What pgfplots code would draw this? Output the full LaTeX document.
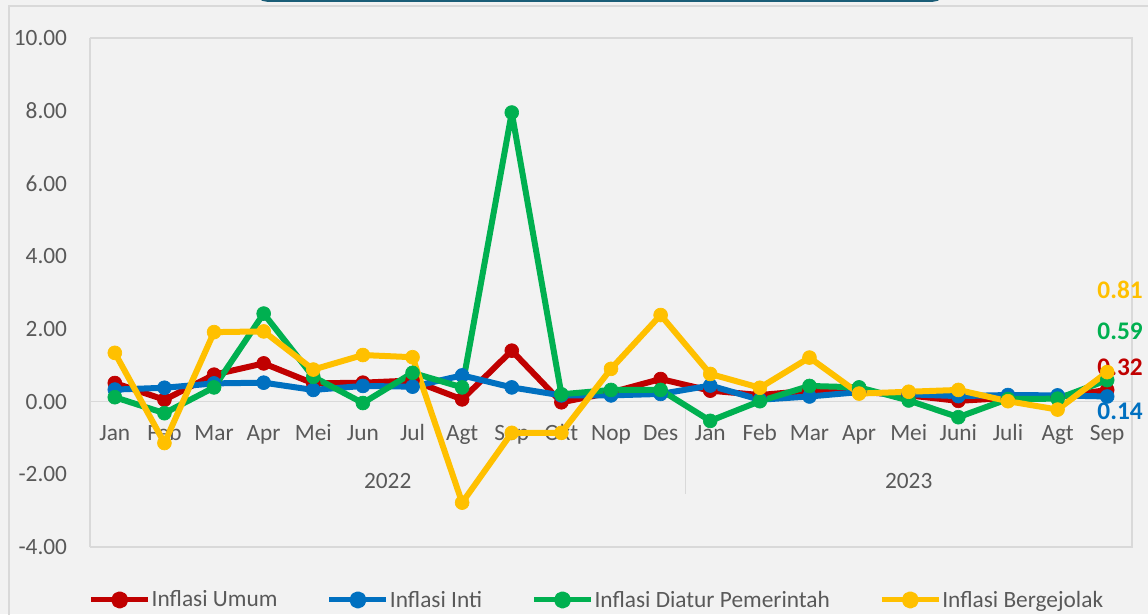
\documentclass[border=0pt]{standalone}
\usepackage{pgfplots}
\pgfplotsset{compat=1.18}
\usepackage{fontspec}
\setmainfont{Carlito}
\definecolor{cred}{HTML}{C00000}
\definecolor{cblue}{HTML}{0070C0}
\definecolor{cgreen}{HTML}{00B050}
\definecolor{cyellow}{HTML}{FFC000}
\definecolor{gridc}{HTML}{D9D9D9}
\definecolor{txt}{HTML}{595959}
\definecolor{bg}{HTML}{F2F2F2}
\definecolor{tealbox}{HTML}{1B5E78}
\newcommand{\tf}{\fontsize{17.5}{21}\selectfont}
\newcommand{\lf}{\fontsize{19}{22}\selectfont\bfseries}
\begin{document}
\begin{tikzpicture}
\path[use as bounding box, fill=bg] (-67.5pt,-50.25pt) rectangle (793.5pt,410.25pt);
\draw[gridc, line width=1pt] (-60.75pt,-60pt) -- (-60.75pt,405.75pt) -- (800pt,405.75pt);
\fill[tealbox, rounded corners=9pt] (123.75pt,408.9pt) rectangle (641.25pt,440pt);
\begin{axis}[
  at={(0,0)}, anchor=south west,
  scale only axis, width=781.5pt, height=381.75pt,
  xmin=-0.5, xmax=20.5, ymin=-4, ymax=10,
  axis x line=middle, axis y line=left,
  hide obscured x ticks=false, hide obscured y ticks=false,
  axis line style={draw=gridc, line width=1.2pt, -},
  xtick={0,...,20},
  xticklabels={Jan,Feb,Mar,Apr,Mei,Jun,Jul,Agt,Sep,Okt,Nop,Des,Jan,Feb,Mar,Apr,Mei,Juni,Juli,Agt,Sep},
  ytick={-4,-2,0,2,4,6,8,10},
  yticklabels={-4.00,-2.00,0.00,2.00,4.00,6.00,8.00,10.00},
  major tick length=0pt,
  tick style={draw=none},
  ticklabel style={font=\tf, text=txt},
  xticklabel style={anchor=base, inner sep=0pt, yshift=-29.5pt},
  yticklabel style={anchor=east, inner sep=0pt, xshift=-17pt},
  clip=false,
  every axis plot/.append style={line width=4.5pt, line join=round, mark=*, mark size=5.2pt, mark options={solid, line width=0.5pt}},
  legend columns=4,
  legend style={at={(-0.0015,-0.104)}, anchor=west, draw=none, fill=none, inner sep=0pt,
    font=\tf, text=txt,
    /tikz/every even column/.append style={column sep=36.3pt},
    nodes={inner sep=0.75pt}},
  legend image code/.code={
    \draw[line width=3.75pt] (0pt,0pt) -- (42.75pt,0pt);
    \fill (21.4pt,0pt) circle (4.2pt);
  },
]
\addplot[color=cred] coordinates {(0,0.51) (1,0.05) (2,0.74) (3,1.05) (4,0.50) (5,0.52) (6,0.58) (7,0.06) (8,1.40) (9,-0.02) (10,0.25) (11,0.62) (12,0.30) (13,0.18) (14,0.30) (15,0.27) (16,0.17) (17,0.02) (18,0.10) (19,0.12) (20,0.32)};
\addlegendentry{Inflasi Umum}
\addplot[color=cblue] coordinates {(0,0.33) (1,0.38) (2,0.50) (3,0.52) (4,0.32) (5,0.43) (6,0.41) (7,0.72) (8,0.39) (9,0.17) (10,0.17) (11,0.21) (12,0.44) (13,0.05) (14,0.14) (15,0.26) (16,0.20) (17,0.15) (18,0.18) (19,0.17) (20,0.14)};
\addlegendentry{Inflasi Inti}
\addplot[color=cgreen] coordinates {(0,0.12) (1,-0.32) (2,0.39) (3,2.42) (4,0.68) (5,-0.04) (6,0.79) (7,0.39) (8,7.95) (9,0.20) (10,0.32) (11,0.32) (12,-0.53) (13,0.01) (14,0.43) (15,0.39) (16,0.03) (17,-0.43) (18,0.07) (19,0.08) (20,0.59)};
\addlegendentry{Inflasi Diatur Pemerintah}
\addplot[color=cyellow] coordinates {(0,1.34) (1,-1.14) (2,1.91) (3,1.93) (4,0.88) (5,1.28) (6,1.22) (7,-2.78) (8,-0.86) (9,-0.86) (10,0.90) (11,2.38) (12,0.76) (13,0.38) (14,1.21) (15,0.22) (16,0.27) (17,0.32) (18,0.01) (19,-0.22) (20,0.81)};
\addlegendentry{Inflasi Bergejolak}
\draw[gridc, line width=1.2pt] (rel axis cs:0,1) -- (rel axis cs:1,1) -- (rel axis cs:1,0) -- (rel axis cs:0,0);
\draw[gridc, line width=1.2pt] ([yshift=-5.5pt]axis cs:11.5,0) -- ([yshift=-69.3pt]axis cs:11.5,0);
\node[anchor=base, font=\tf, text=txt] at ([yshift=-64.9pt]axis cs:5.5,0) {2022};
\node[anchor=base, font=\tf, text=txt] at ([yshift=-64.9pt]axis cs:16,0) {2023};
\node[font=\lf, text=cyellow] at (axis cs:20.26,3.07) {0.81};
\node[font=\lf, text=cgreen] at (axis cs:20.26,1.93) {0.59};
\node[font=\lf, text=cred] at (axis cs:20.26,0.94) {0.32};
\node[font=\lf, text=cblue] at (axis cs:20.26,-0.26) {0.14};
\end{axis}
\end{tikzpicture}
\end{document}
